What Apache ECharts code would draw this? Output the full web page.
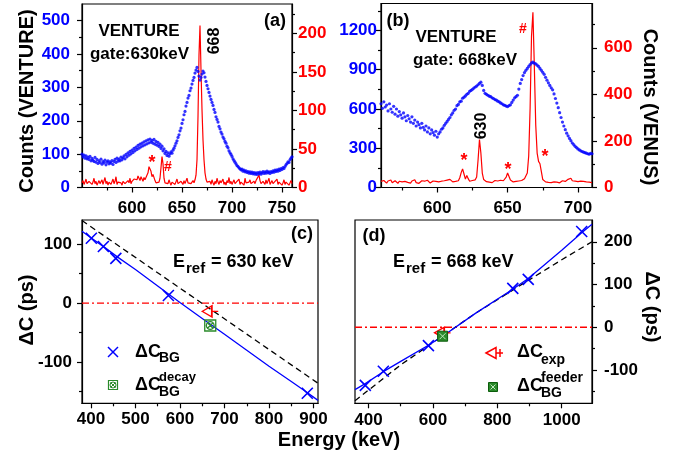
<!DOCTYPE html>
<html><head><meta charset="utf-8">
<script src="https://cdn.jsdelivr.net/npm/echarts@6/dist/echarts.min.js"></script>
<style>html,body{margin:0;padding:0;background:#fff}#c{width:681px;height:457px}</style>
</head><body><div id="c"></div>
<script>
// ---------- data: panel (a), gate 630 keV, 1 keV bins from 550 keV ----------
const aStart = 550;
const aVenus = [
 6,9,4,7,11,5,3,8,6,10, 4,7,12,5,8,3,6,9,5,7, 10,4,6,13,5,8,3,7,9,4, 6,11,5,8,14,4,7,5,9,6,
 3,8,10,5,7,4,9,6,12,5, 8,6,11,9,13,10,15,12,9,14, 11,8,13,10,9,12,19,27,29,21, 14,17,15,9,6,8,5,7,12,26,
 40,31,12,6,4,8,5,10,6,3, 7,5,9,4,6,11,5,7,3,8, 6,4,9,5,7,12,6,4,8,5, 7,9,6,10,16,36,92,172,210,152,
 101,62,36,19,11,7,9,5,8,4, 10,6,3,8,5,12,7,4,9,6, 5,11,4,7,3,9,6,13,5,8, 4,7,10,5,3,8,6,11,4,7,
 9,5,3,12,6,8,4,7,10,5, 6,3,8,5,9,7,11,16,9,5, 3,8,6,4,10,5,7,12,4,6, 9,5,3,8,6,11,4,7,5,9,
 3,6,10,4,7,5,8,3,6,9, 5
];
const aVenture = [
 100,92,97,88,95,86,91,84,93,80, 87,82,78,90,76,84,72,80,75,85, 70,78,74,82,68,76,80,71,77,73, 81,69,78,84,75,88,79,85,80,91,
 83,89,95,86,99,92,104,97,108,101, 112,105,117,110,121,114,126,118,130,122, 133,125,137,128,140,131,143,134,145,136, 141,133,144,130,138,127,135,123,130,117,
 124,110,116,102,108,96,104,94,101,107, 103,112,118,125,133,140,150,158,170,178, 192,203,218,228,244,255,268,276,290,298, 310,321,330,343,352,360,348,334,322,330,
 340,349,344,331,318,306,296,285,274,264, 255,246,234,225,212,204,196,183,176,166, 160,151,146,138,133,124,119,110,104,99, 93,86,81,76,71,66,63,59,56,53,
 55,49,52,47,50,45,48,43,47,42, 46,41,45,40,44,39,45,41,46,40, 44,48,42,47,43,49,44,47,42,48, 45,50,46,52,48,53,49,55,51,57,
 54,60,57,63,68,72,77,75,83,88, 92
];
// ---------- data: panel (b), gate 668 keV, 1 keV bins from 560 keV ----------
const bStart = 560;
const bVenus = [
 26,21,30,24,19,28,23,32,20,25, 29,22,18,27,31,24,20,26,30,22, 25,19,28,23,33,21,26,18,24,29, 22,27,20,31,25,19,23,28,21,26,
 30,24,20,27,22,29,25,32,27,35, 28,24,30,26,33,29,42,64,80,58, 36,52,38,27,24,30,26,33,45,118, 206,148,62,34,28,25,30,23,27,21,
 26,30,22,28,24,31,26,29,34,45, 62,47,32,27,24,29,26,31,28,33, 30,34,38,45,62,135,340,650,752,520, 268,148,112,102,68,34,27,24,30,22,
 26,21,28,24,30,23,27,20,25,29, 22,26,31,35,42,40,29,24,27,21, 25,19,27,22,26,18,24,20,23,26, 21
];
const bVenture = [
 640,605,655,615,630,585,640,600,575,620, 560,600,545,580,555,530,570,540,510,550, 525,500,540,490,515,470,500,480,455,490, 460,440,470,425,455,410,440,420,400,430,
 385,410,425,445,455,475,490,505,520,535, 555,570,590,600,625,635,655,660,682,690, 700,712,720,735,742,750,760,768,775,785, 795,805,780,742,720,712,705,698,694,685,
 680,672,668,660,655,646,640,632,628,622, 618,626,632,650,668,685,694,705,752,795, 825,855,878,895,910,925,940,952,958,950, 945,935,925,910,895,880,865,842,820,800,
 780,762,746,715,680,645,610,572,535,500, 470,442,415,395,375,358,340,328,315,305, 295,287,280,275,270,266,262,258,255,260, 258
];
// ---------- data: panel (c), Eref = 630 keV ----------
const cBG = [[401,110],[428,96],[456,76],[574,13],[886,-153]];
const cFit = [[380,122],[400,111],[430,95],[460,78],[500,57],[575,15],[600,1],[650,-26],[700,-53],[750,-80],[800,-107],[850,-133],[888,-153],[910,-165]];
const cDashed = [[380,140],[910,-136]];
const cZero = [[380,0],[910,0]];
const cExp = [[668,-14]];
const cDecay = [[668,-38]];
// ---------- data: panel (d), Eref = 668 keV ----------
const dBG = [[390,-136],[446,-103],[586,-43],[848,91],[896,112],[1062,224]];
const dFit = [[358,-146],[390,-132],[446,-104],[500,-80],[586,-42],[630,-21],[733,33],[848,89],[896,114],[1000,180],[1062,221],[1094,241]];
const dDashed = [[358,-172],[500,-88],[600,-36],[733,33],[850,88],[1000,158],[1094,200]];
const dZero = [[358,0],[1094,0]];
const dExp = [[630,-13]];
const dFeeder = [[630,-21]];
// ---------- tick labels ----------
const aXTicks = [600,650,700,750], aXMinor = [575,625,675,725];
const aLTicks = [0,100,200,300,400,500], aLMinor = [50,150,250,350,450];
const aRTicks = [0,50,100,150,200], aRMinor = [25,75,125,175,225];
const bXTicks = [600,650,700], bXMinor = [575,625,675];
const bLTicks = [0,300,600,900,1200], bLMinor = [150,450,750,1050,1350];
const bRTicks = [0,200,400,600], bRMinor = [100,300,500,700];
const cXTicks = [400,500,600,700,800,900], cXMinor = [450,550,650,750,850];
const cYTicks = [-100,0,100], cYMinor = [-150,-50,50];
const dXTicks = [400,600,800,1000], dXMinor = [500,700,900];
const dYTicks = [-100,0,100,200], dYMinor = [-150,-50,50,150];

const FONT = '"Liberation Sans", Arial, sans-serif';
const BLUE = '#0000ff', RED = '#ff0000', GREEN = '#2a8a2a';

function axisPair(gi, pos, min, max, ticks, minor, margin, labelColor) {
  const base = {type:'value', gridIndex:gi, position:pos, min:min, max:max, splitLine:{show:false}};
  return [
    Object.assign({}, base, {
      axisLine:{show:true, onZero:false, lineStyle:{color:'#000', width:1.2}},
      axisTick:{show:true, inside:false, length:5, customValues:ticks, lineStyle:{color:'#000', width:1.2}},
      axisLabel:{show:true, customValues:ticks, margin:margin, formatter:function(v){return String(v);},
        fontFamily:FONT, fontWeight:'bold', fontSize:17, color:labelColor}
    }),
    Object.assign({}, base, {
      axisLine:{show:false, onZero:false},
      axisTick:{show:true, inside:false, length:3, customValues:minor, lineStyle:{color:'#000', width:1.2}},
      axisLabel:{show:false}
    })
  ];
}

const xAxis = [].concat(
  axisPair(0,'bottom',550,760,aXTicks,aXMinor,12,'#000'),
  axisPair(1,'bottom',560,710,bXTicks,bXMinor,12,'#000'),
  axisPair(2,'bottom',380,910,cXTicks,cXMinor,8,'#000'),
  axisPair(3,'bottom',358,1094,dXTicks,dXMinor,9,'#000')
);
const yAxis = [].concat(
  axisPair(0,'left',0,550,aLTicks,aLMinor,12,BLUE),       // 0,1
  axisPair(0,'right',0,238,aRTicks,aRMinor,6,RED),        // 2,3
  axisPair(1,'left',0,1406,bLTicks,bLMinor,4,BLUE),       // 4,5
  axisPair(1,'right',0,790,bRTicks,bRMinor,12,RED),       // 6,7
  axisPair(2,'left',-170,141,cYTicks,cYMinor,10,'#000'),  // 8,9
  axisPair(3,'right',-178,251,dYTicks,dYMinor,12,'#000')  // 10,11
);

const grid = [
  {left:82, top:4, width:210, height:183.5, show:true, borderColor:'#000', borderWidth:1.2},
  {left:381, top:3.5, width:211, height:184, show:true, borderColor:'#000', borderWidth:1.2},
  {left:82, top:220, width:236, height:183.3, show:true, borderColor:'#000', borderWidth:1.2},
  {left:355, top:220, width:237, height:183.3, show:true, borderColor:'#000', borderWidth:1.2}
];

function binned(start, arr) { return arr.map((v, i) => [start + i, v]); }

const XSYM = 'path://M0,0L10,10M10,0L0,10';
const TRI = 'path://M0,5L9,0L9,10Z M9,5L15,5';
const BOXC = 'path://M0,0L10,0L10,10L0,10Z M2.5,2.5L7.5,7.5 M7.5,2.5L2.5,7.5 M8.5,5A3.5,3.5,0,1,1,1.5,5A3.5,3.5,0,1,1,8.5,5';

function lineS(x, y, data, color, type, width) {
  return {type:'line', xAxisIndex:x, yAxisIndex:y, data:data, showSymbol:false, symbol:'none', silent:true,
    lineStyle:{color:color, width:width||1.3, type:type||'solid'}, z:2, animation:false};
}
function markS(x, y, data, symbol, size, stroke, fill, bw, z) {
  return {type:'scatter', xAxisIndex:x, yAxisIndex:y, data:data, symbol:symbol, symbolSize:size, silent:true,
    itemStyle:{color:fill, borderColor:stroke, borderWidth:bw, opacity:1}, z:z||5, animation:false};
}

const series = [
  // (a)
  {type:'scatter', xAxisIndex:0, yAxisIndex:0, data:binned(aStart,aVenture), symbol:'circle', symbolSize:3.2, itemStyle:{color:BLUE}, z:2, animation:false, silent:true},
  lineS(0, 2, binned(aStart,aVenus), RED, 'solid', 1.2),
  // (b)
  {type:'scatter', xAxisIndex:2, yAxisIndex:4, data:binned(bStart,bVenture), symbol:'circle', symbolSize:3.2, itemStyle:{color:BLUE}, z:2, animation:false, silent:true},
  lineS(2, 6, binned(bStart,bVenus), RED, 'solid', 1.2),
  // (c)
  lineS(4, 8, cZero, RED, [7,3,2,3], 1.3),
  lineS(4, 8, cDashed, '#000', [6,4], 1.3),
  lineS(4, 8, cFit, BLUE, 'solid', 1.3),
  markS(4, 8, cBG, XSYM, 11, BLUE, 'none', 1.6),
  markS(4, 8, cDecay, BOXC, 11, GREEN, 'none', 1.3),
  markS(4, 8, cExp, TRI, [16,11], RED, 'none', 1.5, 6),
  // (d)
  lineS(6, 10, dZero, RED, [7,3,2,3], 1.3),
  lineS(6, 10, dDashed, '#000', [6,4], 1.3),
  lineS(6, 10, dFit, BLUE, 'solid', 1.3),
  markS(6, 10, dBG, XSYM, 11, BLUE, 'none', 1.6),
  markS(6, 10, dExp, TRI, [16,11], RED, 'none', 1.5, 6),
  markS(6, 10, dFeeder, 'rect', 10, '#0b5d0b', GREEN, 1, 7),
  markS(6, 10, dFeeder, XSYM, 6, '#bfe8bf', 'none', 1, 8)
];

function txt(x, y, text, size, color, rot, align) {
  return {type:'text', x:x, y:y, rotation:rot||0, silent:true, z:20,
    style:{text:text, fill:color||'#000', fontSize:size, fontWeight:'bold', fontFamily:FONT,
      align:align||'center', verticalAlign:'middle'}};
}
function ln(x1,y1,x2,y2,color,w) {
  return {type:'line', silent:true, z:20, shape:{x1:x1,y1:y1,x2:x2,y2:y2}, style:{stroke:color, lineWidth:w||1.5}};
}

const graphic = [
  txt(27, 101, 'Counts (VENTURE)', 20, '#000', Math.PI/2),
  txt(650, 107, 'Counts (VENUS)', 20, '#000', -Math.PI/2),
  txt(27, 310, 'ΔC (ps)', 20, '#000', Math.PI/2),
  txt(652, 307, 'ΔC (ps)', 20, '#000', -Math.PI/2),
  txt(339, 440, 'Energy (keV)', 20, '#000'),
  // (a)
  txt(139, 31, 'VENTURE', 17),
  txt(139.5, 54, 'gate:630keV', 17),
  txt(275, 21, '(a)', 18),
  txt(215, 41, '668', 16, '#000', Math.PI/2),
  txt(152, 163, '*', 18, RED),
  txt(168, 167, '#', 14, RED),
  // (b)
  txt(398, 21, '(b)', 18),
  txt(456, 37, 'VENTURE', 17),
  txt(465, 60, 'gate: 668keV', 17),
  txt(523, 29, '#', 14, RED),
  txt(482, 126, '630', 16, '#000', Math.PI/2),
  txt(464, 161, '*', 18, RED),
  txt(508, 170, '*', 18, RED),
  txt(545, 157, '*', 18, RED),
  // (c)
  txt(302, 234, '(c)', 18),
  txt(173, 262, 'E', 18, '#000', 0, 'left'),
  txt(186, 269, 'ref', 15, '#000', 0, 'left'),
  txt(211, 262, '= 630 keV', 18, '#000', 0, 'left'),
  ln(108,347,118,357,BLUE), ln(118,347,108,357,BLUE),
  txt(135, 352, 'ΔC', 18, '#000', 0, 'left'),
  txt(159, 358, 'BG', 14, '#000', 0, 'left'),
  {type:'rect', silent:true, z:20, shape:{x:108.5,y:380.5,width:9,height:9}, style:{fill:'none', stroke:GREEN, lineWidth:1.2}},
  {type:'circle', silent:true, z:20, shape:{cx:113,cy:385,r:3}, style:{fill:'none', stroke:GREEN, lineWidth:1}},
  ln(110.5,382.5,115.5,387.5,GREEN,1), ln(115.5,382.5,110.5,387.5,GREEN,1),
  txt(135, 385, 'ΔC', 18, '#000', 0, 'left'),
  txt(159, 377, 'decay', 13, '#000', 0, 'left'),
  txt(159, 392, 'BG', 14, '#000', 0, 'left'),
  // (d)
  txt(374, 236, '(d)', 18),
  txt(393, 262, 'E', 18, '#000', 0, 'left'),
  txt(406, 269, 'ref', 15, '#000', 0, 'left'),
  txt(431, 262, '= 668 keV', 18, '#000', 0, 'left'),
  {type:'polygon', silent:true, z:20, shape:{points:[[486,353],[496,347.5],[496,358.5]]}, style:{fill:'none', stroke:RED, lineWidth:1.5}},
  ln(496,353,503,353,RED), ln(500,349,500,357,RED),
  txt(517, 352, 'ΔC', 18, '#000', 0, 'left'),
  txt(541, 360, 'exp', 14, '#000', 0, 'left'),
  {type:'rect', silent:true, z:20, shape:{x:488.5,y:382.5,width:9,height:9}, style:{fill:GREEN, stroke:'#0b5d0b', lineWidth:1}},
  ln(490.5,384.5,495.5,389.5,'#bfe8bf',1), ln(495.5,384.5,490.5,389.5,'#bfe8bf',1),
  txt(517, 386, 'ΔC', 18, '#000', 0, 'left'),
  txt(541, 378, 'feeder', 14, '#000', 0, 'left'),
  txt(541, 393, 'BG', 14, '#000', 0, 'left')
];

const chart = echarts.init(document.getElementById('c'), null, {renderer:'canvas', width:681, height:457});
chart.setOption({backgroundColor:'#fff', animation:false, grid:grid, xAxis:xAxis, yAxis:yAxis, series:series, graphic:graphic});
</script>
</body></html>
